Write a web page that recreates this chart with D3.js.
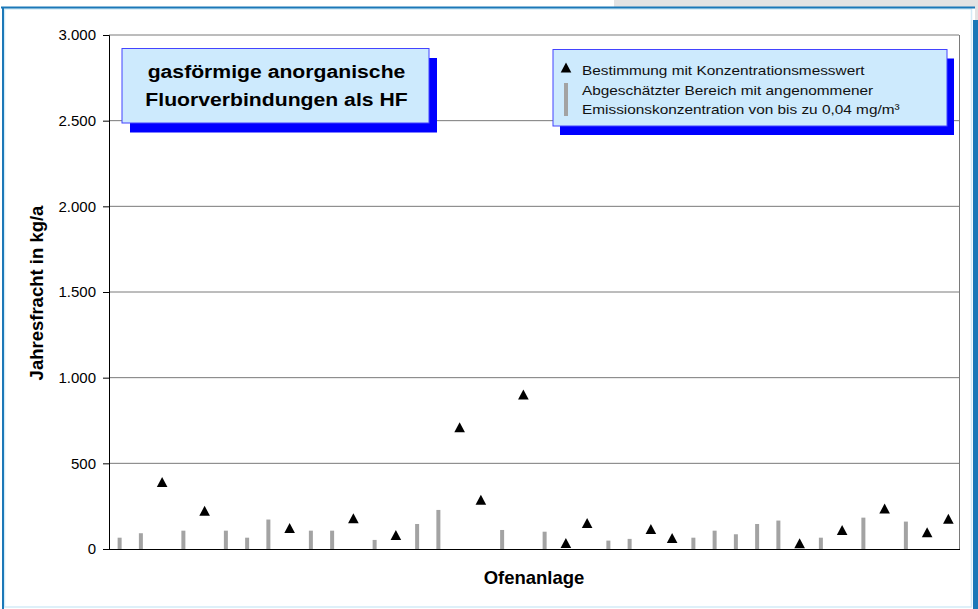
<!DOCTYPE html>
<html><head><meta charset="utf-8">
<script src="https://cdn.jsdelivr.net/npm/d3@7"></script>
<style>
html,body{margin:0;padding:0;background:#fff;}
svg{display:block;font-family:"Liberation Sans",Arial,sans-serif;}
</style></head>
<body>
<script>
// ---- data ----
const categories = d3.range(1, 41).map(String);   // 40 Ofenanlagen
// Bestimmung mit Konzentrationsmesswert (triangles), kg/a
const measured = [null,null,391,null,223,null,null,null,123,null,
                  null,180,null,82,null,null,711,287,null,902,
                  null,35,152,null,null,117,64,null,null,null,
                  null,null,33,null,111,null,236,null,98,176];
// Abgeschätzter Bereich (grey bars), kg/a
const estimated = [66,92,null,107,null,107,66,172,null,107,
                   107,null,53,null,146,228,null,null,111,null,
                   101,null,null,49,59,null,null,66,107,86,
                   146,166,null,66,null,183,null,160,null,null];
const yTicks = [0,500,1000,1500,2000,2500,3000];
const titleLines = ["gasförmige anorganische","Fluorverbindungen als HF"];
const legendLines = ["Bestimmung mit Konzentrationsmesswert",
                     "Abgeschätzter Bereich mit angenommener",
                     "Emissionskonzentration von bis zu 0,04 mg/m³"];
const yTitle = "Jahresfracht in kg/a";
const xTitle = "Ofenanlage";

// ---- setup ----
const W = 978, H = 609;
const svg = d3.select("body").append("svg").attr("width", W).attr("height", H);
svg.append("rect").attr("width", W).attr("height", H).attr("fill", "#fff");

// slide frame
svg.append("rect").attr("x", 614).attr("y", 0).attr("width", 364).attr("height", 7).attr("fill", "#e3e3e3");
svg.append("rect").attr("x", 975).attr("y", 0).attr("width", 3).attr("height", 21).attr("fill", "#e3e3e3");
svg.append("rect").attr("x", 4.5).attr("y", 9).attr("width", 967).attr("height", 598)
  .attr("fill", "none").attr("stroke", "#d3ebf7").attr("stroke-width", 1.5);
svg.append("line").attr("x1", 1).attr("x2", 975).attr("y1", 7.5).attr("y2", 7.5)
  .attr("stroke", "#1b78b8").attr("stroke-width", 2);
svg.append("line").attr("x1", 3).attr("x2", 3).attr("y1", 7).attr("y2", 609)
  .attr("stroke", "#1b78b8").attr("stroke-width", 2);
svg.append("rect").attr("x", 973).attr("y", 20).attr("width", 5).attr("height", 589).attr("fill", "#1b78b8");

const L = 109, R = 959, T = 35, B = 549;
const x = d3.scaleBand().domain(categories).range([L, R]).padding(0);
const y = d3.scaleLinear().domain([0, 3000]).range([B, T]);
const de = d3.formatLocale({decimal: ",", thousands: ".", grouping: [3], currency: ["", " €"]});
const fmt = de.format(",.0f");

// gridlines
svg.append("g").selectAll("line").data(yTicks.filter(d => d > 0)).join("line")
  .attr("x1", L).attr("x2", R).attr("y1", d => y(d)).attr("y2", d => y(d))
  .attr("stroke", "#7a7a7a").attr("stroke-width", 1);
svg.append("line").attr("x1", R + 0.5).attr("x2", R + 0.5).attr("y1", T).attr("y2", B)
  .attr("stroke", "#7a7a7a");

// y axis
const yAxis = svg.append("g").attr("transform", `translate(${L},0)`)
  .call(d3.axisLeft(y).tickValues(yTicks).tickFormat(fmt).tickSize(6).tickPadding(7));
yAxis.select(".domain").attr("stroke", "#000");
yAxis.selectAll(".tick line").attr("stroke", "#000");
yAxis.selectAll("text").attr("font-size", 15).attr("fill", "#000")
  .attr("font-family", "'Liberation Sans',Arial,sans-serif");

// x axis baseline
svg.append("line").attr("x1", L).attr("x2", R + 1).attr("y1", B + 0.5).attr("y2", B + 0.5)
  .attr("stroke", "#000").attr("stroke-width", 1.2);

// estimated bars
const barW = 4;
svg.append("g").selectAll("rect")
  .data(categories.map((c, i) => ({c, v: estimated[i]})).filter(d => d.v != null))
  .join("rect")
  .attr("x", d => x(d.c) + x.bandwidth() / 2 - barW / 2)
  .attr("width", barW)
  .attr("y", d => y(d.v))
  .attr("height", d => y(0) - y(d.v))
  .attr("fill", "#a3a3a3");

// triangle path helper
function tri(cx, cy, hw, hh) {
  return `M${cx},${cy - hh}L${cx + hw},${cy + hh}L${cx - hw},${cy + hh}Z`;
}
svg.append("g").selectAll("path")
  .data(categories.map((c, i) => ({c, v: measured[i]})).filter(d => d.v != null))
  .join("path")
  .attr("d", d => tri(x(d.c) + x.bandwidth() / 2, y(d.v), 5.3, 5))
  .attr("fill", "#000");

// stretch helper (reference text is horizontally widened)
function stretch(sel, k) {
  sel.each(function () {
    const w = this.getComputedTextLength();
    d3.select(this).attr("textLength", w * k).attr("lengthAdjust", "spacingAndGlyphs");
  });
}

// title box
const tb = {x: 122, y: 48.5, w: 307, h: 74.5};
svg.append("rect").attr("x", tb.x + 8).attr("y", tb.y + 9.5).attr("width", tb.w).attr("height", tb.h).attr("fill", "#0000ff");
svg.append("rect").attr("x", tb.x).attr("y", tb.y).attr("width", tb.w).attr("height", tb.h)
  .attr("fill", "#cdeafd").attr("stroke", "#4343ff").attr("stroke-width", 1);
const tt = svg.append("g").selectAll("text").data(titleLines).join("text")
  .attr("x", tb.x + tb.w / 2 + 1).attr("y", (d, i) => 78 + i * 28)
  .attr("text-anchor", "middle").attr("font-size", 17.5).attr("font-weight", "bold").attr("fill", "#000")
  .text(d => d);
stretch(tt, 1.21);

// legend box
const lb = {x: 553, y: 49.5, w: 394, h: 76.5};
svg.append("rect").attr("x", lb.x + 7).attr("y", lb.y + 9).attr("width", lb.w).attr("height", lb.h).attr("fill", "#0000ff");
svg.append("rect").attr("x", lb.x).attr("y", lb.y).attr("width", lb.w).attr("height", lb.h)
  .attr("fill", "#cdeafd").attr("stroke", "#4343ff").attr("stroke-width", 1);
svg.append("path").attr("d", tri(566, 67.5, 5.3, 5)).attr("fill", "#000");
svg.append("rect").attr("x", 564).attr("y", 83).attr("width", 4).attr("height", 33).attr("fill", "#a3a3a3");
const lt = svg.append("g").selectAll("text").data(legendLines).join("text")
  .attr("x", 582).attr("y", (d, i) => 75 + i * 19.5)
  .attr("font-size", 13.6).attr("fill", "#111")
  .text(d => d);
stretch(lt, 1.13);

// axis titles
svg.append("text").attr("transform", `translate(43,293) rotate(-90)`)
  .attr("text-anchor", "middle").attr("font-size", 18.5).attr("font-weight", "bold").attr("fill", "#000")
  .text(yTitle);
svg.append("text").attr("x", (L + R) / 2).attr("y", 584)
  .attr("text-anchor", "middle").attr("font-size", 18.5).attr("font-weight", "bold").attr("fill", "#000")
  .text(xTitle);
</script>
</body></html>
